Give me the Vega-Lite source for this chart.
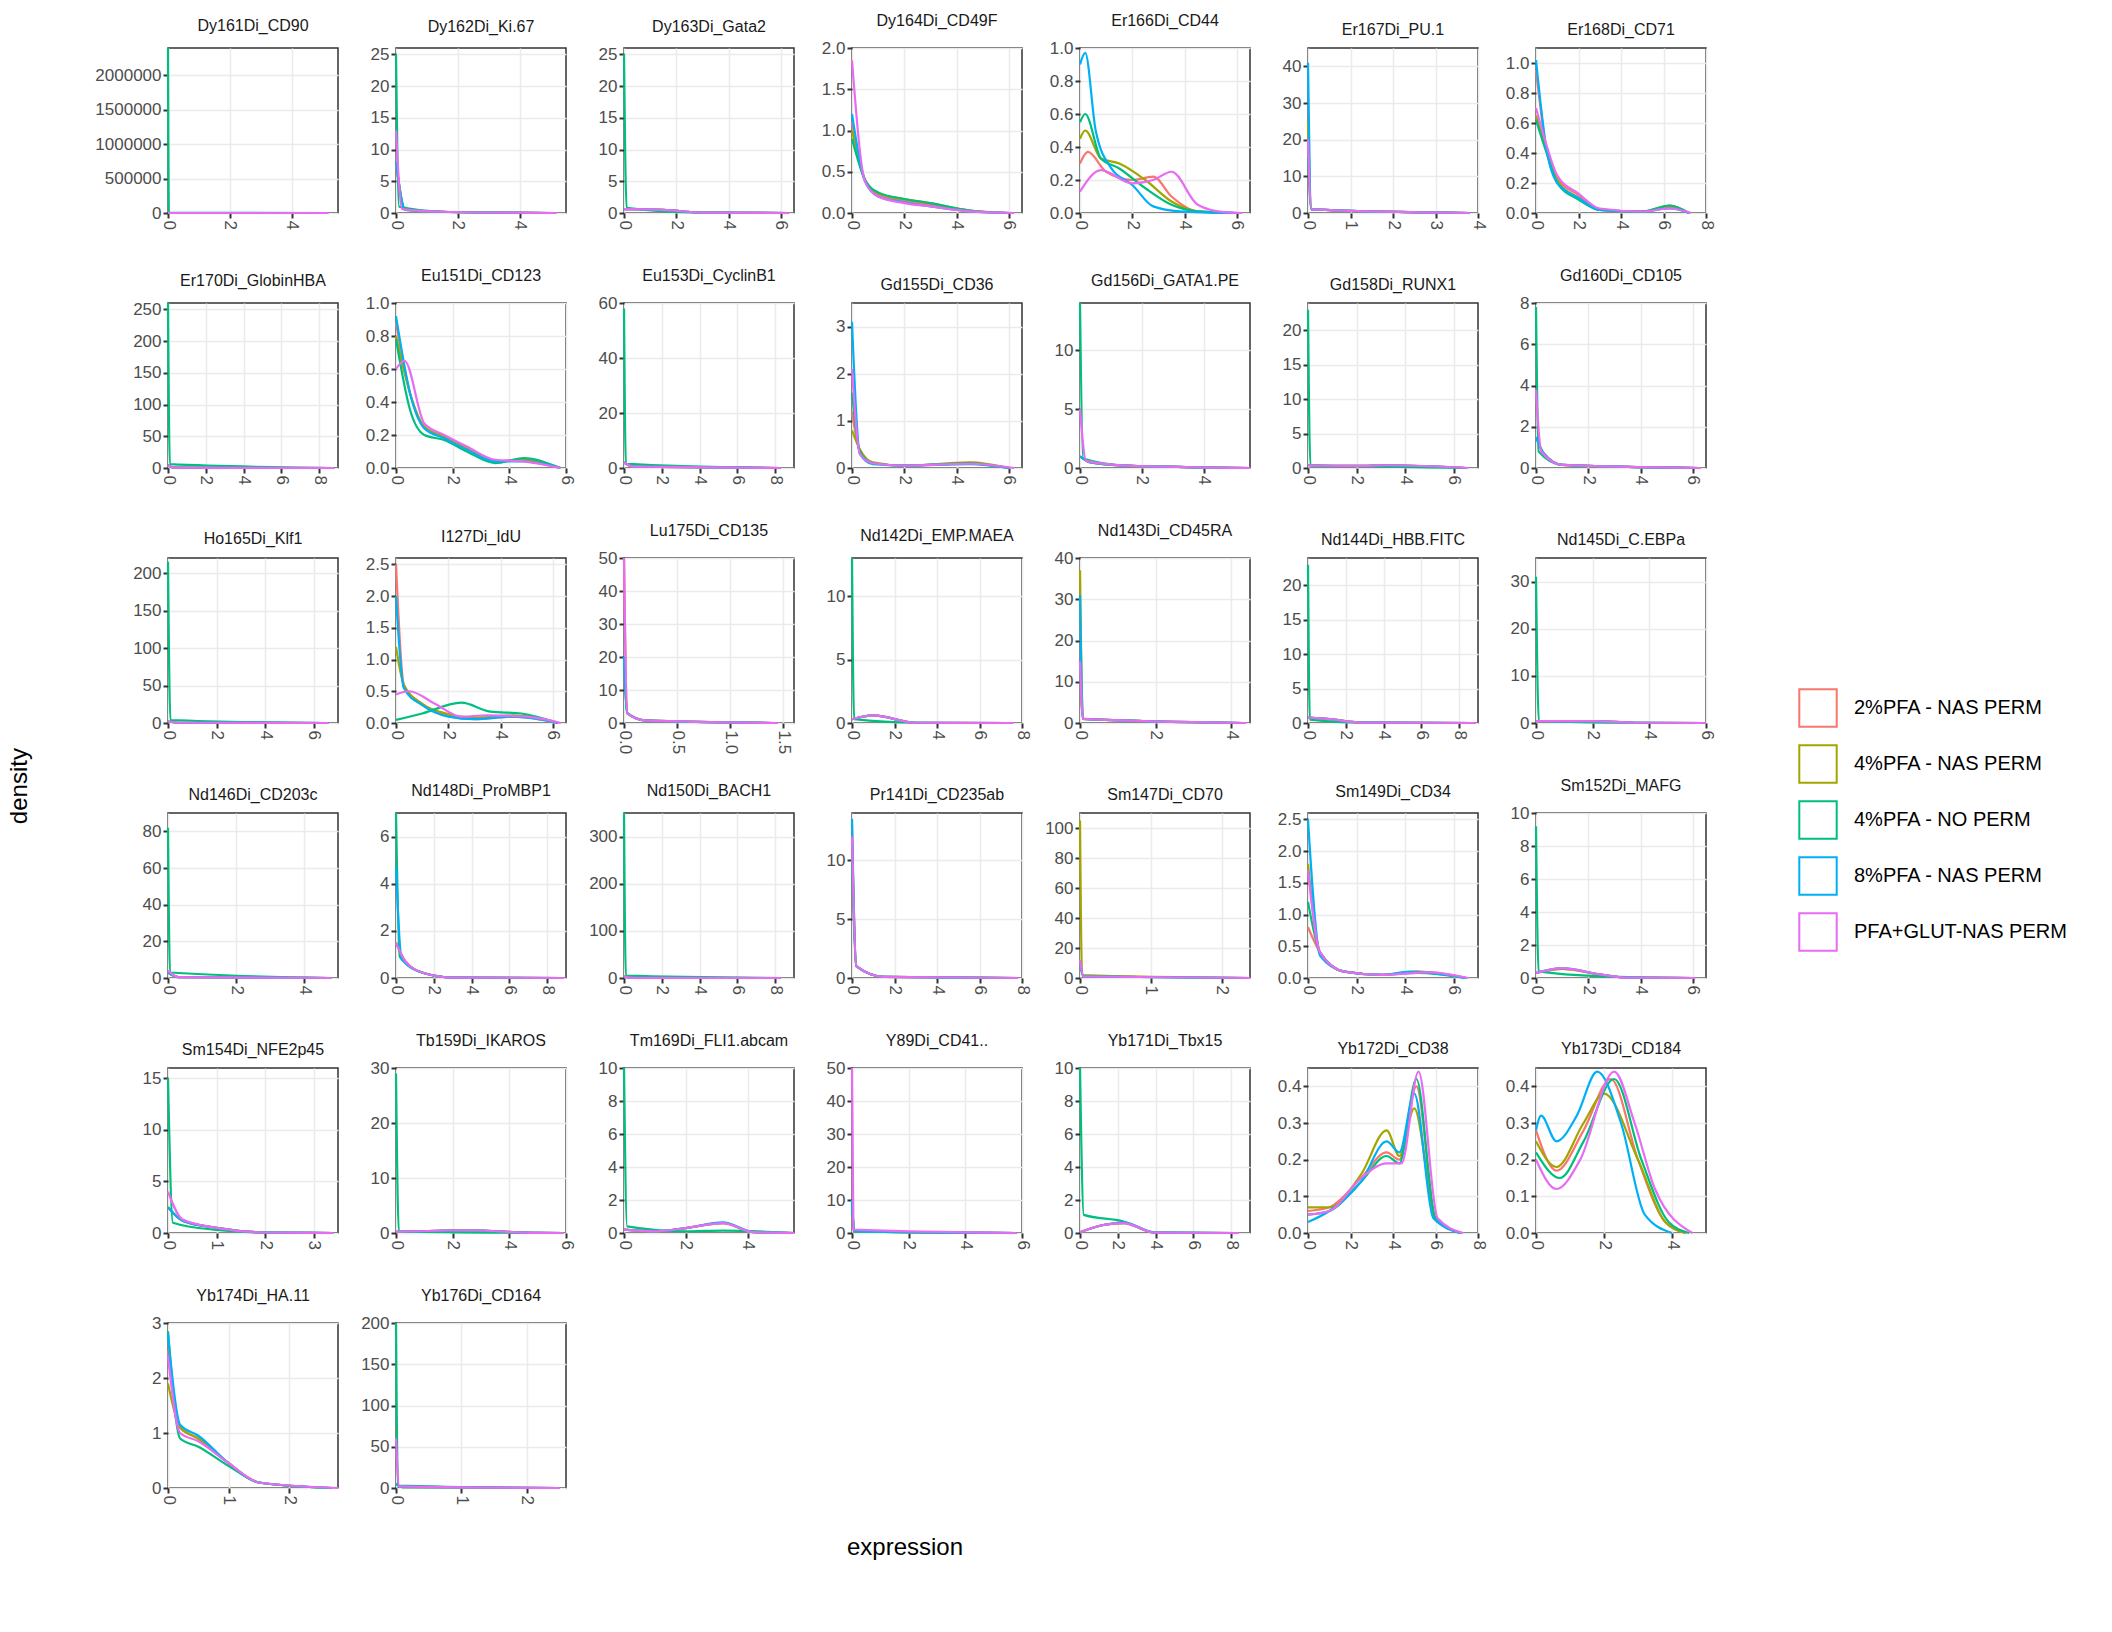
{
"$schema":"https://vega.github.io/schema/vega-lite/v6.json",
"background":"white",
"padding":{"left":8,"top":12,"right":10,"bottom":10},
"bounds":"flush",
"align":"all",
"title":{"text":"density","orient":"left","fontSize":24,"font":"Liberation Sans","fontWeight":"normal","anchor":"middle","offset":62},
"data":{"values":[
{"p":"Dy161Di_CD90","s":"a","x":0,"y":20},{"p":"Dy161Di_CD90","s":"a","x":0.2,"y":1},{"p":"Dy161Di_CD90","s":"a","x":5,"y":0},
{"p":"Dy161Di_CD90","s":"b","x":0,"y":20},{"p":"Dy161Di_CD90","s":"b","x":0.2,"y":1},{"p":"Dy161Di_CD90","s":"b","x":5,"y":0},
{"p":"Dy161Di_CD90","s":"c","x":0,"y":2400000},{"p":"Dy161Di_CD90","s":"c","x":0.03,"y":1000},{"p":"Dy161Di_CD90","s":"c","x":5,"y":0},
{"p":"Dy161Di_CD90","s":"d","x":0,"y":20},{"p":"Dy161Di_CD90","s":"d","x":0.2,"y":1},{"p":"Dy161Di_CD90","s":"d","x":5,"y":0},
{"p":"Dy161Di_CD90","s":"e","x":0,"y":20},{"p":"Dy161Di_CD90","s":"e","x":0.2,"y":1},{"p":"Dy161Di_CD90","s":"e","x":5.2,"y":0},

{"p":"Dy162Di_Ki.67","s":"a","x":0,"y":8},{"p":"Dy162Di_Ki.67","s":"a","x":0.3,"y":0.5},{"p":"Dy162Di_Ki.67","s":"a","x":1.5,"y":0.2},{"p":"Dy162Di_Ki.67","s":"a","x":5,"y":0},
{"p":"Dy162Di_Ki.67","s":"b","x":0,"y":8},{"p":"Dy162Di_Ki.67","s":"b","x":0.3,"y":0.5},{"p":"Dy162Di_Ki.67","s":"b","x":1.5,"y":0.2},{"p":"Dy162Di_Ki.67","s":"b","x":5,"y":0},
{"p":"Dy162Di_Ki.67","s":"c","x":0,"y":25},{"p":"Dy162Di_Ki.67","s":"c","x":0.1,"y":1},{"p":"Dy162Di_Ki.67","s":"c","x":1.5,"y":0.2},{"p":"Dy162Di_Ki.67","s":"c","x":5,"y":0},
{"p":"Dy162Di_Ki.67","s":"d","x":0,"y":8},{"p":"Dy162Di_Ki.67","s":"d","x":0.3,"y":0.5},{"p":"Dy162Di_Ki.67","s":"d","x":1.5,"y":0.2},{"p":"Dy162Di_Ki.67","s":"d","x":5,"y":0},
{"p":"Dy162Di_Ki.67","s":"e","x":0,"y":13},{"p":"Dy162Di_Ki.67","s":"e","x":0.2,"y":0.6},{"p":"Dy162Di_Ki.67","s":"e","x":1.5,"y":0.2},{"p":"Dy162Di_Ki.67","s":"e","x":5.2,"y":0},

{"p":"Dy163Di_Gata2","s":"a","x":0,"y":0.6},{"p":"Dy163Di_Gata2","s":"a","x":1.5,"y":0.5},{"p":"Dy163Di_Gata2","s":"a","x":3,"y":0.05},{"p":"Dy163Di_Gata2","s":"a","x":6.3,"y":0},
{"p":"Dy163Di_Gata2","s":"b","x":0,"y":0.6},{"p":"Dy163Di_Gata2","s":"b","x":1.5,"y":0.5},{"p":"Dy163Di_Gata2","s":"b","x":3,"y":0.05},{"p":"Dy163Di_Gata2","s":"b","x":6.3,"y":0},
{"p":"Dy163Di_Gata2","s":"c","x":0,"y":25},{"p":"Dy163Di_Gata2","s":"c","x":0.1,"y":0.8},{"p":"Dy163Di_Gata2","s":"c","x":3,"y":0.05},{"p":"Dy163Di_Gata2","s":"c","x":6.3,"y":0},
{"p":"Dy163Di_Gata2","s":"d","x":0,"y":0.6},{"p":"Dy163Di_Gata2","s":"d","x":1.5,"y":0.5},{"p":"Dy163Di_Gata2","s":"d","x":3,"y":0.05},{"p":"Dy163Di_Gata2","s":"d","x":6.3,"y":0},
{"p":"Dy163Di_Gata2","s":"e","x":0,"y":0.6},{"p":"Dy163Di_Gata2","s":"e","x":1.5,"y":0.5},{"p":"Dy163Di_Gata2","s":"e","x":3,"y":0.05},{"p":"Dy163Di_Gata2","s":"e","x":6.3,"y":0},

{"p":"Dy164Di_CD49F","s":"a","x":0,"y":1.1},{"p":"Dy164Di_CD49F","s":"a","x":0.5,"y":0.4},{"p":"Dy164Di_CD49F","s":"a","x":1,"y":0.22},{"p":"Dy164Di_CD49F","s":"a","x":2,"y":0.15},{"p":"Dy164Di_CD49F","s":"a","x":3,"y":0.1},{"p":"Dy164Di_CD49F","s":"a","x":4.5,"y":0.03},{"p":"Dy164Di_CD49F","s":"a","x":6,"y":0},
{"p":"Dy164Di_CD49F","s":"b","x":0,"y":1.0},{"p":"Dy164Di_CD49F","s":"b","x":0.5,"y":0.4},{"p":"Dy164Di_CD49F","s":"b","x":1,"y":0.24},{"p":"Dy164Di_CD49F","s":"b","x":2,"y":0.17},{"p":"Dy164Di_CD49F","s":"b","x":3,"y":0.12},{"p":"Dy164Di_CD49F","s":"b","x":4.5,"y":0.03},{"p":"Dy164Di_CD49F","s":"b","x":6,"y":0},
{"p":"Dy164Di_CD49F","s":"c","x":0,"y":0.9},{"p":"Dy164Di_CD49F","s":"c","x":0.5,"y":0.4},{"p":"Dy164Di_CD49F","s":"c","x":1,"y":0.25},{"p":"Dy164Di_CD49F","s":"c","x":2,"y":0.17},{"p":"Dy164Di_CD49F","s":"c","x":3,"y":0.12},{"p":"Dy164Di_CD49F","s":"c","x":4.5,"y":0.03},{"p":"Dy164Di_CD49F","s":"c","x":6,"y":0},
{"p":"Dy164Di_CD49F","s":"d","x":0,"y":1.2},{"p":"Dy164Di_CD49F","s":"d","x":0.5,"y":0.38},{"p":"Dy164Di_CD49F","s":"d","x":1,"y":0.2},{"p":"Dy164Di_CD49F","s":"d","x":2,"y":0.13},{"p":"Dy164Di_CD49F","s":"d","x":3,"y":0.08},{"p":"Dy164Di_CD49F","s":"d","x":4.5,"y":0.02},{"p":"Dy164Di_CD49F","s":"d","x":6,"y":0},
{"p":"Dy164Di_CD49F","s":"e","x":0,"y":1.85},{"p":"Dy164Di_CD49F","s":"e","x":0.5,"y":0.38},{"p":"Dy164Di_CD49F","s":"e","x":1,"y":0.2},{"p":"Dy164Di_CD49F","s":"e","x":2,"y":0.12},{"p":"Dy164Di_CD49F","s":"e","x":3,"y":0.08},{"p":"Dy164Di_CD49F","s":"e","x":4.5,"y":0.02},{"p":"Dy164Di_CD49F","s":"e","x":6.2,"y":0},

{"p":"Er166Di_CD44","s":"a","x":0,"y":0.3},{"p":"Er166Di_CD44","s":"a","x":0.3,"y":0.37},{"p":"Er166Di_CD44","s":"a","x":1,"y":0.25},{"p":"Er166Di_CD44","s":"a","x":2,"y":0.2},{"p":"Er166Di_CD44","s":"a","x":2.8,"y":0.22},{"p":"Er166Di_CD44","s":"a","x":3.5,"y":0.1},{"p":"Er166Di_CD44","s":"a","x":4.5,"y":0.01},{"p":"Er166Di_CD44","s":"a","x":6,"y":0},
{"p":"Er166Di_CD44","s":"b","x":0,"y":0.45},{"p":"Er166Di_CD44","s":"b","x":0.2,"y":0.5},{"p":"Er166Di_CD44","s":"b","x":0.8,"y":0.33},{"p":"Er166Di_CD44","s":"b","x":1.5,"y":0.3},{"p":"Er166Di_CD44","s":"b","x":2.5,"y":0.2},{"p":"Er166Di_CD44","s":"b","x":3.5,"y":0.07},{"p":"Er166Di_CD44","s":"b","x":4.5,"y":0.01},{"p":"Er166Di_CD44","s":"b","x":6,"y":0},
{"p":"Er166Di_CD44","s":"c","x":0,"y":0.55},{"p":"Er166Di_CD44","s":"c","x":0.2,"y":0.6},{"p":"Er166Di_CD44","s":"c","x":0.8,"y":0.33},{"p":"Er166Di_CD44","s":"c","x":1.5,"y":0.27},{"p":"Er166Di_CD44","s":"c","x":2.5,"y":0.15},{"p":"Er166Di_CD44","s":"c","x":3.5,"y":0.05},{"p":"Er166Di_CD44","s":"c","x":4.5,"y":0.01},{"p":"Er166Di_CD44","s":"c","x":6,"y":0},
{"p":"Er166Di_CD44","s":"d","x":0,"y":0.9},{"p":"Er166Di_CD44","s":"d","x":0.2,"y":0.97},{"p":"Er166Di_CD44","s":"d","x":0.6,"y":0.5},{"p":"Er166Di_CD44","s":"d","x":1.2,"y":0.27},{"p":"Er166Di_CD44","s":"d","x":2,"y":0.17},{"p":"Er166Di_CD44","s":"d","x":2.8,"y":0.04},{"p":"Er166Di_CD44","s":"d","x":3.8,"y":0.01},{"p":"Er166Di_CD44","s":"d","x":6,"y":0},
{"p":"Er166Di_CD44","s":"e","x":0,"y":0.13},{"p":"Er166Di_CD44","s":"e","x":0.8,"y":0.26},{"p":"Er166Di_CD44","s":"e","x":2,"y":0.18},{"p":"Er166Di_CD44","s":"e","x":2.8,"y":0.2},{"p":"Er166Di_CD44","s":"e","x":3.5,"y":0.25},{"p":"Er166Di_CD44","s":"e","x":4.5,"y":0.05},{"p":"Er166Di_CD44","s":"e","x":5.5,"y":0.005},{"p":"Er166Di_CD44","s":"e","x":6.2,"y":0},

{"p":"Er167Di_PU.1","s":"a","x":0,"y":25},{"p":"Er167Di_PU.1","s":"a","x":0.08,"y":1},{"p":"Er167Di_PU.1","s":"a","x":3.8,"y":0},
{"p":"Er167Di_PU.1","s":"b","x":0,"y":25},{"p":"Er167Di_PU.1","s":"b","x":0.08,"y":1},{"p":"Er167Di_PU.1","s":"b","x":3.8,"y":0},
{"p":"Er167Di_PU.1","s":"c","x":0,"y":15},{"p":"Er167Di_PU.1","s":"c","x":0.08,"y":1},{"p":"Er167Di_PU.1","s":"c","x":3.8,"y":0},
{"p":"Er167Di_PU.1","s":"d","x":0,"y":41},{"p":"Er167Di_PU.1","s":"d","x":0.08,"y":1},{"p":"Er167Di_PU.1","s":"d","x":3.8,"y":0},
{"p":"Er167Di_PU.1","s":"e","x":0,"y":20},{"p":"Er167Di_PU.1","s":"e","x":0.08,"y":1},{"p":"Er167Di_PU.1","s":"e","x":3.8,"y":0},

{"p":"Er168Di_CD71","s":"a","x":0,"y":0.95},{"p":"Er168Di_CD71","s":"a","x":0.5,"y":0.42},{"p":"Er168Di_CD71","s":"a","x":1,"y":0.23},{"p":"Er168Di_CD71","s":"a","x":2,"y":0.12},{"p":"Er168Di_CD71","s":"a","x":3,"y":0.02},{"p":"Er168Di_CD71","s":"a","x":5,"y":0.01},{"p":"Er168Di_CD71","s":"a","x":6.3,"y":0.04},{"p":"Er168Di_CD71","s":"a","x":7.2,"y":0},
{"p":"Er168Di_CD71","s":"b","x":0,"y":0.65},{"p":"Er168Di_CD71","s":"b","x":0.5,"y":0.42},{"p":"Er168Di_CD71","s":"b","x":1,"y":0.22},{"p":"Er168Di_CD71","s":"b","x":2,"y":0.1},{"p":"Er168Di_CD71","s":"b","x":3,"y":0.02},{"p":"Er168Di_CD71","s":"b","x":5,"y":0.01},{"p":"Er168Di_CD71","s":"b","x":6.3,"y":0.05},{"p":"Er168Di_CD71","s":"b","x":7.2,"y":0},
{"p":"Er168Di_CD71","s":"c","x":0,"y":0.62},{"p":"Er168Di_CD71","s":"c","x":0.5,"y":0.4},{"p":"Er168Di_CD71","s":"c","x":1,"y":0.2},{"p":"Er168Di_CD71","s":"c","x":2,"y":0.09},{"p":"Er168Di_CD71","s":"c","x":3,"y":0.02},{"p":"Er168Di_CD71","s":"c","x":5,"y":0.01},{"p":"Er168Di_CD71","s":"c","x":6.3,"y":0.05},{"p":"Er168Di_CD71","s":"c","x":7.2,"y":0},
{"p":"Er168Di_CD71","s":"d","x":0,"y":1.02},{"p":"Er168Di_CD71","s":"d","x":0.5,"y":0.42},{"p":"Er168Di_CD71","s":"d","x":1,"y":0.2},{"p":"Er168Di_CD71","s":"d","x":2,"y":0.1},{"p":"Er168Di_CD71","s":"d","x":3,"y":0.02},{"p":"Er168Di_CD71","s":"d","x":5,"y":0.01},{"p":"Er168Di_CD71","s":"d","x":6.3,"y":0.03},{"p":"Er168Di_CD71","s":"d","x":7.2,"y":0},
{"p":"Er168Di_CD71","s":"e","x":0,"y":0.7},{"p":"Er168Di_CD71","s":"e","x":0.5,"y":0.45},{"p":"Er168Di_CD71","s":"e","x":1,"y":0.25},{"p":"Er168Di_CD71","s":"e","x":2,"y":0.13},{"p":"Er168Di_CD71","s":"e","x":3,"y":0.03},{"p":"Er168Di_CD71","s":"e","x":5,"y":0.01},{"p":"Er168Di_CD71","s":"e","x":6.3,"y":0.03},{"p":"Er168Di_CD71","s":"e","x":7.3,"y":0},

{"p":"Er170Di_GlobinHBA","s":"a","x":0,"y":5},{"p":"Er170Di_GlobinHBA","s":"a","x":0.3,"y":0.5},{"p":"Er170Di_GlobinHBA","s":"a","x":8.8,"y":0},
{"p":"Er170Di_GlobinHBA","s":"b","x":0,"y":5},{"p":"Er170Di_GlobinHBA","s":"b","x":0.3,"y":0.5},{"p":"Er170Di_GlobinHBA","s":"b","x":8.8,"y":0},
{"p":"Er170Di_GlobinHBA","s":"c","x":0,"y":260},{"p":"Er170Di_GlobinHBA","s":"c","x":0.1,"y":6},{"p":"Er170Di_GlobinHBA","s":"c","x":8.8,"y":0},
{"p":"Er170Di_GlobinHBA","s":"d","x":0,"y":5},{"p":"Er170Di_GlobinHBA","s":"d","x":0.3,"y":0.5},{"p":"Er170Di_GlobinHBA","s":"d","x":8.8,"y":0},
{"p":"Er170Di_GlobinHBA","s":"e","x":0,"y":5},{"p":"Er170Di_GlobinHBA","s":"e","x":0.3,"y":0.5},{"p":"Er170Di_GlobinHBA","s":"e","x":8.8,"y":0},

{"p":"Eu151Di_CD123","s":"a","x":0,"y":0.88},{"p":"Eu151Di_CD123","s":"a","x":0.5,"y":0.45},{"p":"Eu151Di_CD123","s":"a","x":1,"y":0.25},{"p":"Eu151Di_CD123","s":"a","x":1.7,"y":0.19},{"p":"Eu151Di_CD123","s":"a","x":2.5,"y":0.12},{"p":"Eu151Di_CD123","s":"a","x":3.5,"y":0.04},{"p":"Eu151Di_CD123","s":"a","x":4.5,"y":0.05},{"p":"Eu151Di_CD123","s":"a","x":5.8,"y":0},
{"p":"Eu151Di_CD123","s":"b","x":0,"y":0.8},{"p":"Eu151Di_CD123","s":"b","x":0.5,"y":0.45},{"p":"Eu151Di_CD123","s":"b","x":1,"y":0.25},{"p":"Eu151Di_CD123","s":"b","x":1.7,"y":0.19},{"p":"Eu151Di_CD123","s":"b","x":2.5,"y":0.12},{"p":"Eu151Di_CD123","s":"b","x":3.5,"y":0.04},{"p":"Eu151Di_CD123","s":"b","x":4.5,"y":0.05},{"p":"Eu151Di_CD123","s":"b","x":5.8,"y":0},
{"p":"Eu151Di_CD123","s":"c","x":0,"y":0.78},{"p":"Eu151Di_CD123","s":"c","x":0.5,"y":0.35},{"p":"Eu151Di_CD123","s":"c","x":1,"y":0.2},{"p":"Eu151Di_CD123","s":"c","x":1.7,"y":0.17},{"p":"Eu151Di_CD123","s":"c","x":2.5,"y":0.1},{"p":"Eu151Di_CD123","s":"c","x":3.5,"y":0.03},{"p":"Eu151Di_CD123","s":"c","x":4.5,"y":0.06},{"p":"Eu151Di_CD123","s":"c","x":5.8,"y":0},
{"p":"Eu151Di_CD123","s":"d","x":0,"y":0.92},{"p":"Eu151Di_CD123","s":"d","x":0.5,"y":0.45},{"p":"Eu151Di_CD123","s":"d","x":1,"y":0.24},{"p":"Eu151Di_CD123","s":"d","x":1.7,"y":0.18},{"p":"Eu151Di_CD123","s":"d","x":2.5,"y":0.11},{"p":"Eu151Di_CD123","s":"d","x":3.5,"y":0.04},{"p":"Eu151Di_CD123","s":"d","x":4.5,"y":0.04},{"p":"Eu151Di_CD123","s":"d","x":5.8,"y":0},
{"p":"Eu151Di_CD123","s":"e","x":0,"y":0.6},{"p":"Eu151Di_CD123","s":"e","x":0.3,"y":0.65},{"p":"Eu151Di_CD123","s":"e","x":1,"y":0.27},{"p":"Eu151Di_CD123","s":"e","x":1.7,"y":0.2},{"p":"Eu151Di_CD123","s":"e","x":2.5,"y":0.13},{"p":"Eu151Di_CD123","s":"e","x":3.5,"y":0.05},{"p":"Eu151Di_CD123","s":"e","x":4.5,"y":0.04},{"p":"Eu151Di_CD123","s":"e","x":5.8,"y":0},

{"p":"Eu153Di_CyclinB1","s":"a","x":0,"y":2},{"p":"Eu153Di_CyclinB1","s":"a","x":0.5,"y":0.5},{"p":"Eu153Di_CyclinB1","s":"a","x":8.3,"y":0},
{"p":"Eu153Di_CyclinB1","s":"b","x":0,"y":2},{"p":"Eu153Di_CyclinB1","s":"b","x":0.5,"y":0.5},{"p":"Eu153Di_CyclinB1","s":"b","x":8.3,"y":0},
{"p":"Eu153Di_CyclinB1","s":"c","x":0,"y":58},{"p":"Eu153Di_CyclinB1","s":"c","x":0.1,"y":1.5},{"p":"Eu153Di_CyclinB1","s":"c","x":8.3,"y":0},
{"p":"Eu153Di_CyclinB1","s":"d","x":0,"y":2},{"p":"Eu153Di_CyclinB1","s":"d","x":0.5,"y":0.5},{"p":"Eu153Di_CyclinB1","s":"d","x":8.3,"y":0},
{"p":"Eu153Di_CyclinB1","s":"e","x":0,"y":2},{"p":"Eu153Di_CyclinB1","s":"e","x":0.5,"y":0.5},{"p":"Eu153Di_CyclinB1","s":"e","x":8.3,"y":0},

{"p":"Gd155Di_CD36","s":"a","x":0,"y":1.2},{"p":"Gd155Di_CD36","s":"a","x":0.3,"y":0.35},{"p":"Gd155Di_CD36","s":"a","x":0.8,"y":0.1},{"p":"Gd155Di_CD36","s":"a","x":2,"y":0.05},{"p":"Gd155Di_CD36","s":"a","x":4.5,"y":0.1},{"p":"Gd155Di_CD36","s":"a","x":6,"y":0},
{"p":"Gd155Di_CD36","s":"b","x":0,"y":0.8},{"p":"Gd155Di_CD36","s":"b","x":0.3,"y":0.4},{"p":"Gd155Di_CD36","s":"b","x":0.8,"y":0.12},{"p":"Gd155Di_CD36","s":"b","x":2,"y":0.05},{"p":"Gd155Di_CD36","s":"b","x":4.5,"y":0.12},{"p":"Gd155Di_CD36","s":"b","x":6,"y":0},
{"p":"Gd155Di_CD36","s":"c","x":0,"y":1.6},{"p":"Gd155Di_CD36","s":"c","x":0.3,"y":0.35},{"p":"Gd155Di_CD36","s":"c","x":0.8,"y":0.1},{"p":"Gd155Di_CD36","s":"c","x":2,"y":0.05},{"p":"Gd155Di_CD36","s":"c","x":4.5,"y":0.1},{"p":"Gd155Di_CD36","s":"c","x":6,"y":0},
{"p":"Gd155Di_CD36","s":"d","x":0,"y":3.1},{"p":"Gd155Di_CD36","s":"d","x":0.3,"y":0.3},{"p":"Gd155Di_CD36","s":"d","x":0.8,"y":0.08},{"p":"Gd155Di_CD36","s":"d","x":2,"y":0.05},{"p":"Gd155Di_CD36","s":"d","x":4.5,"y":0.08},{"p":"Gd155Di_CD36","s":"d","x":6,"y":0},
{"p":"Gd155Di_CD36","s":"e","x":0,"y":2.1},{"p":"Gd155Di_CD36","s":"e","x":0.3,"y":0.3},{"p":"Gd155Di_CD36","s":"e","x":0.8,"y":0.1},{"p":"Gd155Di_CD36","s":"e","x":2,"y":0.05},{"p":"Gd155Di_CD36","s":"e","x":4.5,"y":0.09},{"p":"Gd155Di_CD36","s":"e","x":6.2,"y":0},

{"p":"Gd156Di_GATA1.PE","s":"a","x":0,"y":1},{"p":"Gd156Di_GATA1.PE","s":"a","x":0.3,"y":0.5},{"p":"Gd156Di_GATA1.PE","s":"a","x":1.5,"y":0.2},{"p":"Gd156Di_GATA1.PE","s":"a","x":5.5,"y":0},
{"p":"Gd156Di_GATA1.PE","s":"b","x":0,"y":1},{"p":"Gd156Di_GATA1.PE","s":"b","x":0.3,"y":0.5},{"p":"Gd156Di_GATA1.PE","s":"b","x":1.5,"y":0.2},{"p":"Gd156Di_GATA1.PE","s":"b","x":5.5,"y":0},
{"p":"Gd156Di_GATA1.PE","s":"c","x":0,"y":14},{"p":"Gd156Di_GATA1.PE","s":"c","x":0.1,"y":0.8},{"p":"Gd156Di_GATA1.PE","s":"c","x":1.5,"y":0.2},{"p":"Gd156Di_GATA1.PE","s":"c","x":5.5,"y":0},
{"p":"Gd156Di_GATA1.PE","s":"d","x":0,"y":1},{"p":"Gd156Di_GATA1.PE","s":"d","x":0.3,"y":0.5},{"p":"Gd156Di_GATA1.PE","s":"d","x":1.5,"y":0.2},{"p":"Gd156Di_GATA1.PE","s":"d","x":5.5,"y":0},
{"p":"Gd156Di_GATA1.PE","s":"e","x":0,"y":5},{"p":"Gd156Di_GATA1.PE","s":"e","x":0.2,"y":0.6},{"p":"Gd156Di_GATA1.PE","s":"e","x":1.5,"y":0.2},{"p":"Gd156Di_GATA1.PE","s":"e","x":5.5,"y":0},

{"p":"Gd158Di_RUNX1","s":"a","x":0,"y":0.4},{"p":"Gd158Di_RUNX1","s":"a","x":2,"y":0.3},{"p":"Gd158Di_RUNX1","s":"a","x":3.3,"y":0.4},{"p":"Gd158Di_RUNX1","s":"a","x":6.5,"y":0},
{"p":"Gd158Di_RUNX1","s":"b","x":0,"y":0.4},{"p":"Gd158Di_RUNX1","s":"b","x":2,"y":0.3},{"p":"Gd158Di_RUNX1","s":"b","x":3.3,"y":0.4},{"p":"Gd158Di_RUNX1","s":"b","x":6.5,"y":0},
{"p":"Gd158Di_RUNX1","s":"c","x":0,"y":23},{"p":"Gd158Di_RUNX1","s":"c","x":0.1,"y":0.4},{"p":"Gd158Di_RUNX1","s":"c","x":3.3,"y":0.2},{"p":"Gd158Di_RUNX1","s":"c","x":6.5,"y":0},
{"p":"Gd158Di_RUNX1","s":"d","x":0,"y":0.4},{"p":"Gd158Di_RUNX1","s":"d","x":2,"y":0.3},{"p":"Gd158Di_RUNX1","s":"d","x":3.3,"y":0.4},{"p":"Gd158Di_RUNX1","s":"d","x":6.5,"y":0},
{"p":"Gd158Di_RUNX1","s":"e","x":0,"y":0.4},{"p":"Gd158Di_RUNX1","s":"e","x":2,"y":0.3},{"p":"Gd158Di_RUNX1","s":"e","x":3.3,"y":0.4},{"p":"Gd158Di_RUNX1","s":"e","x":6.6,"y":0},

{"p":"Gd160Di_CD105","s":"a","x":0,"y":1.5},{"p":"Gd160Di_CD105","s":"a","x":0.3,"y":0.7},{"p":"Gd160Di_CD105","s":"a","x":1,"y":0.15},{"p":"Gd160Di_CD105","s":"a","x":6.2,"y":0},
{"p":"Gd160Di_CD105","s":"b","x":0,"y":1.5},{"p":"Gd160Di_CD105","s":"b","x":0.3,"y":0.7},{"p":"Gd160Di_CD105","s":"b","x":1,"y":0.15},{"p":"Gd160Di_CD105","s":"b","x":6.2,"y":0},
{"p":"Gd160Di_CD105","s":"c","x":0,"y":7.8},{"p":"Gd160Di_CD105","s":"c","x":0.1,"y":0.8},{"p":"Gd160Di_CD105","s":"c","x":1,"y":0.15},{"p":"Gd160Di_CD105","s":"c","x":6.2,"y":0},
{"p":"Gd160Di_CD105","s":"d","x":0,"y":1.5},{"p":"Gd160Di_CD105","s":"d","x":0.3,"y":0.7},{"p":"Gd160Di_CD105","s":"d","x":1,"y":0.15},{"p":"Gd160Di_CD105","s":"d","x":6.2,"y":0},
{"p":"Gd160Di_CD105","s":"e","x":0,"y":3.8},{"p":"Gd160Di_CD105","s":"e","x":0.2,"y":0.8},{"p":"Gd160Di_CD105","s":"e","x":1,"y":0.15},{"p":"Gd160Di_CD105","s":"e","x":6.3,"y":0},

{"p":"Ho165Di_Klf1","s":"a","x":0,"y":2},{"p":"Ho165Di_Klf1","s":"a","x":0.5,"y":0.3},{"p":"Ho165Di_Klf1","s":"a","x":6.6,"y":0},
{"p":"Ho165Di_Klf1","s":"b","x":0,"y":2},{"p":"Ho165Di_Klf1","s":"b","x":0.5,"y":0.3},{"p":"Ho165Di_Klf1","s":"b","x":6.6,"y":0},
{"p":"Ho165Di_Klf1","s":"c","x":0,"y":215},{"p":"Ho165Di_Klf1","s":"c","x":0.1,"y":4},{"p":"Ho165Di_Klf1","s":"c","x":6.6,"y":0},
{"p":"Ho165Di_Klf1","s":"d","x":0,"y":2},{"p":"Ho165Di_Klf1","s":"d","x":0.5,"y":0.3},{"p":"Ho165Di_Klf1","s":"d","x":6.6,"y":0},
{"p":"Ho165Di_Klf1","s":"e","x":0,"y":2},{"p":"Ho165Di_Klf1","s":"e","x":0.5,"y":0.3},{"p":"Ho165Di_Klf1","s":"e","x":6.6,"y":0},

{"p":"I127Di_IdU","s":"a","x":0,"y":2.5},{"p":"I127Di_IdU","s":"a","x":0.3,"y":0.6},{"p":"I127Di_IdU","s":"a","x":1,"y":0.3},{"p":"I127Di_IdU","s":"a","x":2,"y":0.12},{"p":"I127Di_IdU","s":"a","x":3,"y":0.06},{"p":"I127Di_IdU","s":"a","x":4.5,"y":0.1},{"p":"I127Di_IdU","s":"a","x":6.2,"y":0},
{"p":"I127Di_IdU","s":"b","x":0,"y":1.2},{"p":"I127Di_IdU","s":"b","x":0.3,"y":0.6},{"p":"I127Di_IdU","s":"b","x":1,"y":0.3},{"p":"I127Di_IdU","s":"b","x":2,"y":0.14},{"p":"I127Di_IdU","s":"b","x":3,"y":0.08},{"p":"I127Di_IdU","s":"b","x":4.5,"y":0.12},{"p":"I127Di_IdU","s":"b","x":6.2,"y":0},
{"p":"I127Di_IdU","s":"c","x":0,"y":0.05},{"p":"I127Di_IdU","s":"c","x":1,"y":0.15},{"p":"I127Di_IdU","s":"c","x":2.5,"y":0.32},{"p":"I127Di_IdU","s":"c","x":3.6,"y":0.18},{"p":"I127Di_IdU","s":"c","x":4.8,"y":0.15},{"p":"I127Di_IdU","s":"c","x":6.2,"y":0},
{"p":"I127Di_IdU","s":"d","x":0,"y":2.0},{"p":"I127Di_IdU","s":"d","x":0.3,"y":0.55},{"p":"I127Di_IdU","s":"d","x":1,"y":0.28},{"p":"I127Di_IdU","s":"d","x":2,"y":0.1},{"p":"I127Di_IdU","s":"d","x":3,"y":0.06},{"p":"I127Di_IdU","s":"d","x":4.5,"y":0.1},{"p":"I127Di_IdU","s":"d","x":6.2,"y":0},
{"p":"I127Di_IdU","s":"e","x":0,"y":0.45},{"p":"I127Di_IdU","s":"e","x":0.5,"y":0.5},{"p":"I127Di_IdU","s":"e","x":1.5,"y":0.3},{"p":"I127Di_IdU","s":"e","x":2.5,"y":0.1},{"p":"I127Di_IdU","s":"e","x":3.5,"y":0.12},{"p":"I127Di_IdU","s":"e","x":5,"y":0.1},{"p":"I127Di_IdU","s":"e","x":6.3,"y":0},

{"p":"Lu175Di_CD135","s":"a","x":0,"y":50},{"p":"Lu175Di_CD135","s":"a","x":0.03,"y":3},{"p":"Lu175Di_CD135","s":"a","x":0.2,"y":0.8},{"p":"Lu175Di_CD135","s":"a","x":1.4,"y":0},
{"p":"Lu175Di_CD135","s":"b","x":0,"y":20},{"p":"Lu175Di_CD135","s":"b","x":0.03,"y":3},{"p":"Lu175Di_CD135","s":"b","x":0.2,"y":0.8},{"p":"Lu175Di_CD135","s":"b","x":1.4,"y":0},
{"p":"Lu175Di_CD135","s":"c","x":0,"y":20},{"p":"Lu175Di_CD135","s":"c","x":0.03,"y":3},{"p":"Lu175Di_CD135","s":"c","x":0.2,"y":0.8},{"p":"Lu175Di_CD135","s":"c","x":1.4,"y":0},
{"p":"Lu175Di_CD135","s":"d","x":0,"y":20},{"p":"Lu175Di_CD135","s":"d","x":0.03,"y":3},{"p":"Lu175Di_CD135","s":"d","x":0.2,"y":0.8},{"p":"Lu175Di_CD135","s":"d","x":1.4,"y":0},
{"p":"Lu175Di_CD135","s":"e","x":0,"y":50},{"p":"Lu175Di_CD135","s":"e","x":0.03,"y":3},{"p":"Lu175Di_CD135","s":"e","x":0.2,"y":0.8},{"p":"Lu175Di_CD135","s":"e","x":1.45,"y":0},

{"p":"Nd142Di_EMP.MAEA","s":"a","x":0,"y":0.3},{"p":"Nd142Di_EMP.MAEA","s":"a","x":1,"y":0.6},{"p":"Nd142Di_EMP.MAEA","s":"a","x":3,"y":0.02},{"p":"Nd142Di_EMP.MAEA","s":"a","x":7.5,"y":0},
{"p":"Nd142Di_EMP.MAEA","s":"b","x":0,"y":0.3},{"p":"Nd142Di_EMP.MAEA","s":"b","x":1,"y":0.6},{"p":"Nd142Di_EMP.MAEA","s":"b","x":3,"y":0.02},{"p":"Nd142Di_EMP.MAEA","s":"b","x":7.5,"y":0},
{"p":"Nd142Di_EMP.MAEA","s":"c","x":0,"y":13},{"p":"Nd142Di_EMP.MAEA","s":"c","x":0.1,"y":0.3},{"p":"Nd142Di_EMP.MAEA","s":"c","x":3,"y":0.02},{"p":"Nd142Di_EMP.MAEA","s":"c","x":7.5,"y":0},
{"p":"Nd142Di_EMP.MAEA","s":"d","x":0,"y":0.3},{"p":"Nd142Di_EMP.MAEA","s":"d","x":1,"y":0.6},{"p":"Nd142Di_EMP.MAEA","s":"d","x":3,"y":0.02},{"p":"Nd142Di_EMP.MAEA","s":"d","x":7.5,"y":0},
{"p":"Nd142Di_EMP.MAEA","s":"e","x":0,"y":0.3},{"p":"Nd142Di_EMP.MAEA","s":"e","x":1,"y":0.6},{"p":"Nd142Di_EMP.MAEA","s":"e","x":3,"y":0.02},{"p":"Nd142Di_EMP.MAEA","s":"e","x":7.6,"y":0},

{"p":"Nd143Di_CD45RA","s":"a","x":0,"y":15},{"p":"Nd143Di_CD45RA","s":"a","x":0.08,"y":1},{"p":"Nd143Di_CD45RA","s":"a","x":4.3,"y":0},
{"p":"Nd143Di_CD45RA","s":"b","x":0,"y":37},{"p":"Nd143Di_CD45RA","s":"b","x":0.08,"y":1},{"p":"Nd143Di_CD45RA","s":"b","x":4.3,"y":0},
{"p":"Nd143Di_CD45RA","s":"c","x":0,"y":15},{"p":"Nd143Di_CD45RA","s":"c","x":0.08,"y":1},{"p":"Nd143Di_CD45RA","s":"c","x":4.3,"y":0},
{"p":"Nd143Di_CD45RA","s":"d","x":0,"y":31},{"p":"Nd143Di_CD45RA","s":"d","x":0.08,"y":1},{"p":"Nd143Di_CD45RA","s":"d","x":4.3,"y":0},
{"p":"Nd143Di_CD45RA","s":"e","x":0,"y":15},{"p":"Nd143Di_CD45RA","s":"e","x":0.08,"y":1},{"p":"Nd143Di_CD45RA","s":"e","x":4.4,"y":0},

{"p":"Nd144Di_HBB.FITC","s":"a","x":0,"y":0.8},{"p":"Nd144Di_HBB.FITC","s":"a","x":1,"y":0.6},{"p":"Nd144Di_HBB.FITC","s":"a","x":3,"y":0.05},{"p":"Nd144Di_HBB.FITC","s":"a","x":8.8,"y":0},
{"p":"Nd144Di_HBB.FITC","s":"b","x":0,"y":0.8},{"p":"Nd144Di_HBB.FITC","s":"b","x":1,"y":0.6},{"p":"Nd144Di_HBB.FITC","s":"b","x":3,"y":0.05},{"p":"Nd144Di_HBB.FITC","s":"b","x":8.8,"y":0},
{"p":"Nd144Di_HBB.FITC","s":"c","x":0,"y":23},{"p":"Nd144Di_HBB.FITC","s":"c","x":0.1,"y":0.5},{"p":"Nd144Di_HBB.FITC","s":"c","x":3,"y":0.05},{"p":"Nd144Di_HBB.FITC","s":"c","x":8.8,"y":0},
{"p":"Nd144Di_HBB.FITC","s":"d","x":0,"y":0.8},{"p":"Nd144Di_HBB.FITC","s":"d","x":1,"y":0.6},{"p":"Nd144Di_HBB.FITC","s":"d","x":3,"y":0.05},{"p":"Nd144Di_HBB.FITC","s":"d","x":8.8,"y":0},
{"p":"Nd144Di_HBB.FITC","s":"e","x":0,"y":0.8},{"p":"Nd144Di_HBB.FITC","s":"e","x":1,"y":0.6},{"p":"Nd144Di_HBB.FITC","s":"e","x":3,"y":0.05},{"p":"Nd144Di_HBB.FITC","s":"e","x":8.9,"y":0},

{"p":"Nd145Di_C.EBPa","s":"a","x":0,"y":0.4},{"p":"Nd145Di_C.EBPa","s":"a","x":2,"y":0.4},{"p":"Nd145Di_C.EBPa","s":"a","x":3.5,"y":0.05},{"p":"Nd145Di_C.EBPa","s":"a","x":6,"y":0},
{"p":"Nd145Di_C.EBPa","s":"b","x":0,"y":0.4},{"p":"Nd145Di_C.EBPa","s":"b","x":2,"y":0.4},{"p":"Nd145Di_C.EBPa","s":"b","x":3.5,"y":0.05},{"p":"Nd145Di_C.EBPa","s":"b","x":6,"y":0},
{"p":"Nd145Di_C.EBPa","s":"c","x":0,"y":31},{"p":"Nd145Di_C.EBPa","s":"c","x":0.1,"y":0.4},{"p":"Nd145Di_C.EBPa","s":"c","x":3.5,"y":0.05},{"p":"Nd145Di_C.EBPa","s":"c","x":6,"y":0},
{"p":"Nd145Di_C.EBPa","s":"d","x":0,"y":0.4},{"p":"Nd145Di_C.EBPa","s":"d","x":2,"y":0.4},{"p":"Nd145Di_C.EBPa","s":"d","x":3.5,"y":0.05},{"p":"Nd145Di_C.EBPa","s":"d","x":6,"y":0},
{"p":"Nd145Di_C.EBPa","s":"e","x":0,"y":0.4},{"p":"Nd145Di_C.EBPa","s":"e","x":2,"y":0.4},{"p":"Nd145Di_C.EBPa","s":"e","x":3.5,"y":0.05},{"p":"Nd145Di_C.EBPa","s":"e","x":6,"y":0},

{"p":"Nd146Di_CD203c","s":"a","x":0,"y":3},{"p":"Nd146Di_CD203c","s":"a","x":0.3,"y":0.5},{"p":"Nd146Di_CD203c","s":"a","x":4.8,"y":0},
{"p":"Nd146Di_CD203c","s":"b","x":0,"y":3},{"p":"Nd146Di_CD203c","s":"b","x":0.3,"y":0.5},{"p":"Nd146Di_CD203c","s":"b","x":4.8,"y":0},
{"p":"Nd146Di_CD203c","s":"c","x":0,"y":82},{"p":"Nd146Di_CD203c","s":"c","x":0.06,"y":3},{"p":"Nd146Di_CD203c","s":"c","x":4.8,"y":0},
{"p":"Nd146Di_CD203c","s":"d","x":0,"y":3},{"p":"Nd146Di_CD203c","s":"d","x":0.3,"y":0.5},{"p":"Nd146Di_CD203c","s":"d","x":4.8,"y":0},
{"p":"Nd146Di_CD203c","s":"e","x":0,"y":4},{"p":"Nd146Di_CD203c","s":"e","x":0.3,"y":0.5},{"p":"Nd146Di_CD203c","s":"e","x":4.8,"y":0},

{"p":"Nd148Di_ProMBP1","s":"a","x":0,"y":1.5},{"p":"Nd148Di_ProMBP1","s":"a","x":0.5,"y":0.7},{"p":"Nd148Di_ProMBP1","s":"a","x":1.5,"y":0.2},{"p":"Nd148Di_ProMBP1","s":"a","x":3,"y":0.02},{"p":"Nd148Di_ProMBP1","s":"a","x":8.8,"y":0},
{"p":"Nd148Di_ProMBP1","s":"b","x":0,"y":1.5},{"p":"Nd148Di_ProMBP1","s":"b","x":0.5,"y":0.7},{"p":"Nd148Di_ProMBP1","s":"b","x":1.5,"y":0.2},{"p":"Nd148Di_ProMBP1","s":"b","x":3,"y":0.02},{"p":"Nd148Di_ProMBP1","s":"b","x":8.8,"y":0},
{"p":"Nd148Di_ProMBP1","s":"c","x":0,"y":7},{"p":"Nd148Di_ProMBP1","s":"c","x":0.2,"y":0.9},{"p":"Nd148Di_ProMBP1","s":"c","x":1.5,"y":0.2},{"p":"Nd148Di_ProMBP1","s":"c","x":3,"y":0.02},{"p":"Nd148Di_ProMBP1","s":"c","x":8.8,"y":0},
{"p":"Nd148Di_ProMBP1","s":"d","x":0,"y":4.7},{"p":"Nd148Di_ProMBP1","s":"d","x":0.3,"y":0.8},{"p":"Nd148Di_ProMBP1","s":"d","x":1.5,"y":0.2},{"p":"Nd148Di_ProMBP1","s":"d","x":3,"y":0.02},{"p":"Nd148Di_ProMBP1","s":"d","x":8.8,"y":0},
{"p":"Nd148Di_ProMBP1","s":"e","x":0,"y":1.5},{"p":"Nd148Di_ProMBP1","s":"e","x":0.5,"y":0.7},{"p":"Nd148Di_ProMBP1","s":"e","x":1.5,"y":0.2},{"p":"Nd148Di_ProMBP1","s":"e","x":3,"y":0.02},{"p":"Nd148Di_ProMBP1","s":"e","x":8.9,"y":0},

{"p":"Nd150Di_BACH1","s":"a","x":0,"y":3},{"p":"Nd150Di_BACH1","s":"a","x":0.5,"y":0.3},{"p":"Nd150Di_BACH1","s":"a","x":8.3,"y":0},
{"p":"Nd150Di_BACH1","s":"b","x":0,"y":3},{"p":"Nd150Di_BACH1","s":"b","x":0.5,"y":0.3},{"p":"Nd150Di_BACH1","s":"b","x":8.3,"y":0},
{"p":"Nd150Di_BACH1","s":"c","x":0,"y":350},{"p":"Nd150Di_BACH1","s":"c","x":0.1,"y":5},{"p":"Nd150Di_BACH1","s":"c","x":8.3,"y":0},
{"p":"Nd150Di_BACH1","s":"d","x":0,"y":3},{"p":"Nd150Di_BACH1","s":"d","x":0.5,"y":0.3},{"p":"Nd150Di_BACH1","s":"d","x":8.3,"y":0},
{"p":"Nd150Di_BACH1","s":"e","x":0,"y":3},{"p":"Nd150Di_BACH1","s":"e","x":0.5,"y":0.3},{"p":"Nd150Di_BACH1","s":"e","x":8.3,"y":0},

{"p":"Pr141Di_CD235ab","s":"a","x":0,"y":13},{"p":"Pr141Di_CD235ab","s":"a","x":0.2,"y":1},{"p":"Pr141Di_CD235ab","s":"a","x":1.5,"y":0.1},{"p":"Pr141Di_CD235ab","s":"a","x":7.8,"y":0},
{"p":"Pr141Di_CD235ab","s":"b","x":0,"y":12},{"p":"Pr141Di_CD235ab","s":"b","x":0.2,"y":1},{"p":"Pr141Di_CD235ab","s":"b","x":1.5,"y":0.1},{"p":"Pr141Di_CD235ab","s":"b","x":7.8,"y":0},
{"p":"Pr141Di_CD235ab","s":"c","x":0,"y":10},{"p":"Pr141Di_CD235ab","s":"c","x":0.2,"y":1},{"p":"Pr141Di_CD235ab","s":"c","x":1.5,"y":0.1},{"p":"Pr141Di_CD235ab","s":"c","x":7.8,"y":0},
{"p":"Pr141Di_CD235ab","s":"d","x":0,"y":13.5},{"p":"Pr141Di_CD235ab","s":"d","x":0.2,"y":1},{"p":"Pr141Di_CD235ab","s":"d","x":1.5,"y":0.1},{"p":"Pr141Di_CD235ab","s":"d","x":7.8,"y":0},
{"p":"Pr141Di_CD235ab","s":"e","x":0,"y":12},{"p":"Pr141Di_CD235ab","s":"e","x":0.2,"y":1},{"p":"Pr141Di_CD235ab","s":"e","x":1.5,"y":0.1},{"p":"Pr141Di_CD235ab","s":"e","x":7.8,"y":0},

{"p":"Sm147Di_CD70","s":"a","x":0,"y":10},{"p":"Sm147Di_CD70","s":"a","x":0.05,"y":1},{"p":"Sm147Di_CD70","s":"a","x":2.4,"y":0},
{"p":"Sm147Di_CD70","s":"b","x":0,"y":105},{"p":"Sm147Di_CD70","s":"b","x":0.03,"y":2},{"p":"Sm147Di_CD70","s":"b","x":2.4,"y":0},
{"p":"Sm147Di_CD70","s":"c","x":0,"y":10},{"p":"Sm147Di_CD70","s":"c","x":0.05,"y":1},{"p":"Sm147Di_CD70","s":"c","x":2.4,"y":0},
{"p":"Sm147Di_CD70","s":"d","x":0,"y":10},{"p":"Sm147Di_CD70","s":"d","x":0.05,"y":1},{"p":"Sm147Di_CD70","s":"d","x":2.4,"y":0},
{"p":"Sm147Di_CD70","s":"e","x":0,"y":12},{"p":"Sm147Di_CD70","s":"e","x":0.05,"y":1},{"p":"Sm147Di_CD70","s":"e","x":2.4,"y":0},

{"p":"Sm149Di_CD34","s":"a","x":0,"y":0.8},{"p":"Sm149Di_CD34","s":"a","x":0.5,"y":0.4},{"p":"Sm149Di_CD34","s":"a","x":1.5,"y":0.1},{"p":"Sm149Di_CD34","s":"a","x":3,"y":0.05},{"p":"Sm149Di_CD34","s":"a","x":4.5,"y":0.1},{"p":"Sm149Di_CD34","s":"a","x":6.5,"y":0},
{"p":"Sm149Di_CD34","s":"b","x":0,"y":1.8},{"p":"Sm149Di_CD34","s":"b","x":0.5,"y":0.4},{"p":"Sm149Di_CD34","s":"b","x":1.5,"y":0.1},{"p":"Sm149Di_CD34","s":"b","x":3,"y":0.05},{"p":"Sm149Di_CD34","s":"b","x":4.5,"y":0.1},{"p":"Sm149Di_CD34","s":"b","x":6.5,"y":0},
{"p":"Sm149Di_CD34","s":"c","x":0,"y":1.2},{"p":"Sm149Di_CD34","s":"c","x":0.5,"y":0.4},{"p":"Sm149Di_CD34","s":"c","x":1.5,"y":0.1},{"p":"Sm149Di_CD34","s":"c","x":3,"y":0.05},{"p":"Sm149Di_CD34","s":"c","x":4.5,"y":0.08},{"p":"Sm149Di_CD34","s":"c","x":6.5,"y":0},
{"p":"Sm149Di_CD34","s":"d","x":0,"y":2.5},{"p":"Sm149Di_CD34","s":"d","x":0.5,"y":0.35},{"p":"Sm149Di_CD34","s":"d","x":1.5,"y":0.1},{"p":"Sm149Di_CD34","s":"d","x":3,"y":0.05},{"p":"Sm149Di_CD34","s":"d","x":4.2,"y":0.1},{"p":"Sm149Di_CD34","s":"d","x":6.5,"y":0},
{"p":"Sm149Di_CD34","s":"e","x":0,"y":1.7},{"p":"Sm149Di_CD34","s":"e","x":0.5,"y":0.4},{"p":"Sm149Di_CD34","s":"e","x":1.5,"y":0.1},{"p":"Sm149Di_CD34","s":"e","x":3,"y":0.05},{"p":"Sm149Di_CD34","s":"e","x":5,"y":0.09},{"p":"Sm149Di_CD34","s":"e","x":6.6,"y":0},

{"p":"Sm152Di_MAFG","s":"a","x":0,"y":0.3},{"p":"Sm152Di_MAFG","s":"a","x":1,"y":0.55},{"p":"Sm152Di_MAFG","s":"a","x":2.5,"y":0.2},{"p":"Sm152Di_MAFG","s":"a","x":3.5,"y":0.02},{"p":"Sm152Di_MAFG","s":"a","x":6,"y":0},
{"p":"Sm152Di_MAFG","s":"b","x":0,"y":0.3},{"p":"Sm152Di_MAFG","s":"b","x":1,"y":0.55},{"p":"Sm152Di_MAFG","s":"b","x":2.5,"y":0.2},{"p":"Sm152Di_MAFG","s":"b","x":3.5,"y":0.02},{"p":"Sm152Di_MAFG","s":"b","x":6,"y":0},
{"p":"Sm152Di_MAFG","s":"c","x":0,"y":9.2},{"p":"Sm152Di_MAFG","s":"c","x":0.1,"y":0.4},{"p":"Sm152Di_MAFG","s":"c","x":2.5,"y":0.1},{"p":"Sm152Di_MAFG","s":"c","x":6,"y":0},
{"p":"Sm152Di_MAFG","s":"d","x":0,"y":0.3},{"p":"Sm152Di_MAFG","s":"d","x":1,"y":0.6},{"p":"Sm152Di_MAFG","s":"d","x":2.5,"y":0.2},{"p":"Sm152Di_MAFG","s":"d","x":3.5,"y":0.02},{"p":"Sm152Di_MAFG","s":"d","x":6,"y":0},
{"p":"Sm152Di_MAFG","s":"e","x":0,"y":0.3},{"p":"Sm152Di_MAFG","s":"e","x":1,"y":0.6},{"p":"Sm152Di_MAFG","s":"e","x":2.5,"y":0.2},{"p":"Sm152Di_MAFG","s":"e","x":3.5,"y":0.02},{"p":"Sm152Di_MAFG","s":"e","x":6.1,"y":0},

{"p":"Sm154Di_NFE2p45","s":"a","x":0,"y":2.5},{"p":"Sm154Di_NFE2p45","s":"a","x":0.3,"y":1.2},{"p":"Sm154Di_NFE2p45","s":"a","x":1,"y":0.5},{"p":"Sm154Di_NFE2p45","s":"a","x":2,"y":0.05},{"p":"Sm154Di_NFE2p45","s":"a","x":3.4,"y":0},
{"p":"Sm154Di_NFE2p45","s":"b","x":0,"y":2.5},{"p":"Sm154Di_NFE2p45","s":"b","x":0.3,"y":1.2},{"p":"Sm154Di_NFE2p45","s":"b","x":1,"y":0.5},{"p":"Sm154Di_NFE2p45","s":"b","x":2,"y":0.05},{"p":"Sm154Di_NFE2p45","s":"b","x":3.4,"y":0},
{"p":"Sm154Di_NFE2p45","s":"c","x":0,"y":15},{"p":"Sm154Di_NFE2p45","s":"c","x":0.1,"y":1},{"p":"Sm154Di_NFE2p45","s":"c","x":1,"y":0.3},{"p":"Sm154Di_NFE2p45","s":"c","x":2,"y":0.05},{"p":"Sm154Di_NFE2p45","s":"c","x":3.4,"y":0},
{"p":"Sm154Di_NFE2p45","s":"d","x":0,"y":2.5},{"p":"Sm154Di_NFE2p45","s":"d","x":0.3,"y":1.2},{"p":"Sm154Di_NFE2p45","s":"d","x":1,"y":0.5},{"p":"Sm154Di_NFE2p45","s":"d","x":2,"y":0.05},{"p":"Sm154Di_NFE2p45","s":"d","x":3.4,"y":0},
{"p":"Sm154Di_NFE2p45","s":"e","x":0,"y":4},{"p":"Sm154Di_NFE2p45","s":"e","x":0.3,"y":1.3},{"p":"Sm154Di_NFE2p45","s":"e","x":1,"y":0.5},{"p":"Sm154Di_NFE2p45","s":"e","x":2,"y":0.05},{"p":"Sm154Di_NFE2p45","s":"e","x":3.4,"y":0},

{"p":"Tb159Di_IKAROS","s":"a","x":0,"y":0.2},{"p":"Tb159Di_IKAROS","s":"a","x":2.5,"y":0.5},{"p":"Tb159Di_IKAROS","s":"a","x":5,"y":0.02},{"p":"Tb159Di_IKAROS","s":"a","x":5.9,"y":0},
{"p":"Tb159Di_IKAROS","s":"b","x":0,"y":0.2},{"p":"Tb159Di_IKAROS","s":"b","x":2.5,"y":0.5},{"p":"Tb159Di_IKAROS","s":"b","x":5,"y":0.02},{"p":"Tb159Di_IKAROS","s":"b","x":5.9,"y":0},
{"p":"Tb159Di_IKAROS","s":"c","x":0,"y":29},{"p":"Tb159Di_IKAROS","s":"c","x":0.1,"y":0.3},{"p":"Tb159Di_IKAROS","s":"c","x":5,"y":0.02},{"p":"Tb159Di_IKAROS","s":"c","x":5.9,"y":0},
{"p":"Tb159Di_IKAROS","s":"d","x":0,"y":0.2},{"p":"Tb159Di_IKAROS","s":"d","x":2.5,"y":0.5},{"p":"Tb159Di_IKAROS","s":"d","x":5,"y":0.02},{"p":"Tb159Di_IKAROS","s":"d","x":5.9,"y":0},
{"p":"Tb159Di_IKAROS","s":"e","x":0,"y":0.2},{"p":"Tb159Di_IKAROS","s":"e","x":2.5,"y":0.5},{"p":"Tb159Di_IKAROS","s":"e","x":5,"y":0.02},{"p":"Tb159Di_IKAROS","s":"e","x":5.9,"y":0},

{"p":"Tm169Di_FLI1.abcam","s":"a","x":0,"y":0.2},{"p":"Tm169Di_FLI1.abcam","s":"a","x":1,"y":0.1},{"p":"Tm169Di_FLI1.abcam","s":"a","x":2,"y":0.3},{"p":"Tm169Di_FLI1.abcam","s":"a","x":3.2,"y":0.6},{"p":"Tm169Di_FLI1.abcam","s":"a","x":4.2,"y":0.05},{"p":"Tm169Di_FLI1.abcam","s":"a","x":5.5,"y":0},
{"p":"Tm169Di_FLI1.abcam","s":"b","x":0,"y":0.2},{"p":"Tm169Di_FLI1.abcam","s":"b","x":1,"y":0.1},{"p":"Tm169Di_FLI1.abcam","s":"b","x":2,"y":0.3},{"p":"Tm169Di_FLI1.abcam","s":"b","x":3.2,"y":0.6},{"p":"Tm169Di_FLI1.abcam","s":"b","x":4.2,"y":0.05},{"p":"Tm169Di_FLI1.abcam","s":"b","x":5.5,"y":0},
{"p":"Tm169Di_FLI1.abcam","s":"c","x":0,"y":10},{"p":"Tm169Di_FLI1.abcam","s":"c","x":0.1,"y":0.4},{"p":"Tm169Di_FLI1.abcam","s":"c","x":2,"y":0.1},{"p":"Tm169Di_FLI1.abcam","s":"c","x":3.2,"y":0.15},{"p":"Tm169Di_FLI1.abcam","s":"c","x":5.5,"y":0},
{"p":"Tm169Di_FLI1.abcam","s":"d","x":0,"y":0.2},{"p":"Tm169Di_FLI1.abcam","s":"d","x":1,"y":0.1},{"p":"Tm169Di_FLI1.abcam","s":"d","x":2,"y":0.3},{"p":"Tm169Di_FLI1.abcam","s":"d","x":3.2,"y":0.65},{"p":"Tm169Di_FLI1.abcam","s":"d","x":4.2,"y":0.05},{"p":"Tm169Di_FLI1.abcam","s":"d","x":5.5,"y":0},
{"p":"Tm169Di_FLI1.abcam","s":"e","x":0,"y":0.2},{"p":"Tm169Di_FLI1.abcam","s":"e","x":1,"y":0.1},{"p":"Tm169Di_FLI1.abcam","s":"e","x":2,"y":0.3},{"p":"Tm169Di_FLI1.abcam","s":"e","x":3.2,"y":0.6},{"p":"Tm169Di_FLI1.abcam","s":"e","x":4.2,"y":0.05},{"p":"Tm169Di_FLI1.abcam","s":"e","x":5.5,"y":0},

{"p":"Y89Di_CD41..","s":"a","x":0,"y":10},{"p":"Y89Di_CD41..","s":"a","x":0.08,"y":0.5},{"p":"Y89Di_CD41..","s":"a","x":5.8,"y":0},
{"p":"Y89Di_CD41..","s":"b","x":0,"y":10},{"p":"Y89Di_CD41..","s":"b","x":0.08,"y":0.5},{"p":"Y89Di_CD41..","s":"b","x":5.8,"y":0},
{"p":"Y89Di_CD41..","s":"c","x":0,"y":10},{"p":"Y89Di_CD41..","s":"c","x":0.08,"y":0.5},{"p":"Y89Di_CD41..","s":"c","x":5.8,"y":0},
{"p":"Y89Di_CD41..","s":"d","x":0,"y":10},{"p":"Y89Di_CD41..","s":"d","x":0.08,"y":0.5},{"p":"Y89Di_CD41..","s":"d","x":5.8,"y":0},
{"p":"Y89Di_CD41..","s":"e","x":0,"y":50},{"p":"Y89Di_CD41..","s":"e","x":0.05,"y":1},{"p":"Y89Di_CD41..","s":"e","x":5.8,"y":0},

{"p":"Yb171Di_Tbx15","s":"a","x":0,"y":0.05},{"p":"Yb171Di_Tbx15","s":"a","x":1.3,"y":0.5},{"p":"Yb171Di_Tbx15","s":"a","x":2.3,"y":0.6},{"p":"Yb171Di_Tbx15","s":"a","x":4,"y":0.02},{"p":"Yb171Di_Tbx15","s":"a","x":8.3,"y":0},
{"p":"Yb171Di_Tbx15","s":"b","x":0,"y":0.05},{"p":"Yb171Di_Tbx15","s":"b","x":1.3,"y":0.5},{"p":"Yb171Di_Tbx15","s":"b","x":2.3,"y":0.6},{"p":"Yb171Di_Tbx15","s":"b","x":4,"y":0.02},{"p":"Yb171Di_Tbx15","s":"b","x":8.3,"y":0},
{"p":"Yb171Di_Tbx15","s":"c","x":0,"y":10},{"p":"Yb171Di_Tbx15","s":"c","x":0.2,"y":1.1},{"p":"Yb171Di_Tbx15","s":"c","x":2.3,"y":0.7},{"p":"Yb171Di_Tbx15","s":"c","x":4,"y":0.02},{"p":"Yb171Di_Tbx15","s":"c","x":8.3,"y":0},
{"p":"Yb171Di_Tbx15","s":"d","x":0,"y":0.05},{"p":"Yb171Di_Tbx15","s":"d","x":1.3,"y":0.5},{"p":"Yb171Di_Tbx15","s":"d","x":2.3,"y":0.65},{"p":"Yb171Di_Tbx15","s":"d","x":4,"y":0.02},{"p":"Yb171Di_Tbx15","s":"d","x":8.3,"y":0},
{"p":"Yb171Di_Tbx15","s":"e","x":0,"y":0.05},{"p":"Yb171Di_Tbx15","s":"e","x":1.3,"y":0.5},{"p":"Yb171Di_Tbx15","s":"e","x":2.3,"y":0.6},{"p":"Yb171Di_Tbx15","s":"e","x":4,"y":0.02},{"p":"Yb171Di_Tbx15","s":"e","x":8.4,"y":0},

{"p":"Yb172Di_CD38","s":"a","x":0,"y":0.06},{"p":"Yb172Di_CD38","s":"a","x":1,"y":0.07},{"p":"Yb172Di_CD38","s":"a","x":2.5,"y":0.15},{"p":"Yb172Di_CD38","s":"a","x":3.7,"y":0.22},{"p":"Yb172Di_CD38","s":"a","x":4.3,"y":0.2},{"p":"Yb172Di_CD38","s":"a","x":5.1,"y":0.4},{"p":"Yb172Di_CD38","s":"a","x":6,"y":0.04},{"p":"Yb172Di_CD38","s":"a","x":7.2,"y":0},
{"p":"Yb172Di_CD38","s":"b","x":0,"y":0.07},{"p":"Yb172Di_CD38","s":"b","x":1,"y":0.07},{"p":"Yb172Di_CD38","s":"b","x":2.5,"y":0.16},{"p":"Yb172Di_CD38","s":"b","x":3.7,"y":0.28},{"p":"Yb172Di_CD38","s":"b","x":4.3,"y":0.21},{"p":"Yb172Di_CD38","s":"b","x":5.0,"y":0.34},{"p":"Yb172Di_CD38","s":"b","x":6,"y":0.04},{"p":"Yb172Di_CD38","s":"b","x":7.2,"y":0},
{"p":"Yb172Di_CD38","s":"c","x":0,"y":0.05},{"p":"Yb172Di_CD38","s":"c","x":1,"y":0.06},{"p":"Yb172Di_CD38","s":"c","x":2.5,"y":0.14},{"p":"Yb172Di_CD38","s":"c","x":3.7,"y":0.21},{"p":"Yb172Di_CD38","s":"c","x":4.3,"y":0.19},{"p":"Yb172Di_CD38","s":"c","x":5.1,"y":0.42},{"p":"Yb172Di_CD38","s":"c","x":6,"y":0.04},{"p":"Yb172Di_CD38","s":"c","x":7.2,"y":0},
{"p":"Yb172Di_CD38","s":"d","x":0,"y":0.03},{"p":"Yb172Di_CD38","s":"d","x":1,"y":0.06},{"p":"Yb172Di_CD38","s":"d","x":2.5,"y":0.14},{"p":"Yb172Di_CD38","s":"d","x":3.7,"y":0.25},{"p":"Yb172Di_CD38","s":"d","x":4.3,"y":0.22},{"p":"Yb172Di_CD38","s":"d","x":5.0,"y":0.38},{"p":"Yb172Di_CD38","s":"d","x":5.9,"y":0.04},{"p":"Yb172Di_CD38","s":"d","x":7.2,"y":0},
{"p":"Yb172Di_CD38","s":"e","x":0,"y":0.05},{"p":"Yb172Di_CD38","s":"e","x":1,"y":0.06},{"p":"Yb172Di_CD38","s":"e","x":2.5,"y":0.15},{"p":"Yb172Di_CD38","s":"e","x":3.7,"y":0.19},{"p":"Yb172Di_CD38","s":"e","x":4.4,"y":0.19},{"p":"Yb172Di_CD38","s":"e","x":5.2,"y":0.44},{"p":"Yb172Di_CD38","s":"e","x":6.1,"y":0.04},{"p":"Yb172Di_CD38","s":"e","x":7.3,"y":0},

{"p":"Yb173Di_CD184","s":"a","x":0,"y":0.28},{"p":"Yb173Di_CD184","s":"a","x":0.6,"y":0.17},{"p":"Yb173Di_CD184","s":"a","x":1.4,"y":0.28},{"p":"Yb173Di_CD184","s":"a","x":2.2,"y":0.42},{"p":"Yb173Di_CD184","s":"a","x":3,"y":0.2},{"p":"Yb173Di_CD184","s":"a","x":3.8,"y":0.03},{"p":"Yb173Di_CD184","s":"a","x":4.4,"y":0},
{"p":"Yb173Di_CD184","s":"b","x":0,"y":0.25},{"p":"Yb173Di_CD184","s":"b","x":0.6,"y":0.18},{"p":"Yb173Di_CD184","s":"b","x":1.4,"y":0.3},{"p":"Yb173Di_CD184","s":"b","x":2,"y":0.38},{"p":"Yb173Di_CD184","s":"b","x":3,"y":0.2},{"p":"Yb173Di_CD184","s":"b","x":3.8,"y":0.03},{"p":"Yb173Di_CD184","s":"b","x":4.4,"y":0},
{"p":"Yb173Di_CD184","s":"c","x":0,"y":0.22},{"p":"Yb173Di_CD184","s":"c","x":0.7,"y":0.15},{"p":"Yb173Di_CD184","s":"c","x":1.4,"y":0.25},{"p":"Yb173Di_CD184","s":"c","x":2.3,"y":0.42},{"p":"Yb173Di_CD184","s":"c","x":3.1,"y":0.2},{"p":"Yb173Di_CD184","s":"c","x":3.9,"y":0.03},{"p":"Yb173Di_CD184","s":"c","x":4.5,"y":0},
{"p":"Yb173Di_CD184","s":"d","x":0,"y":0.28},{"p":"Yb173Di_CD184","s":"d","x":0.15,"y":0.32},{"p":"Yb173Di_CD184","s":"d","x":0.6,"y":0.25},{"p":"Yb173Di_CD184","s":"d","x":1.2,"y":0.32},{"p":"Yb173Di_CD184","s":"d","x":1.8,"y":0.44},{"p":"Yb173Di_CD184","s":"d","x":2.5,"y":0.3},{"p":"Yb173Di_CD184","s":"d","x":3.2,"y":0.05},{"p":"Yb173Di_CD184","s":"d","x":4,"y":0},
{"p":"Yb173Di_CD184","s":"e","x":0,"y":0.2},{"p":"Yb173Di_CD184","s":"e","x":0.6,"y":0.12},{"p":"Yb173Di_CD184","s":"e","x":1.3,"y":0.2},{"p":"Yb173Di_CD184","s":"e","x":2.3,"y":0.44},{"p":"Yb173Di_CD184","s":"e","x":2.9,"y":0.3},{"p":"Yb173Di_CD184","s":"e","x":3.5,"y":0.12},{"p":"Yb173Di_CD184","s":"e","x":4.6,"y":0},

{"p":"Yb174Di_HA.11","s":"a","x":0,"y":2.5},{"p":"Yb174Di_HA.11","s":"a","x":0.2,"y":1.1},{"p":"Yb174Di_HA.11","s":"a","x":0.5,"y":0.9},{"p":"Yb174Di_HA.11","s":"a","x":1,"y":0.45},{"p":"Yb174Di_HA.11","s":"a","x":1.5,"y":0.1},{"p":"Yb174Di_HA.11","s":"a","x":2.7,"y":0},
{"p":"Yb174Di_HA.11","s":"b","x":0,"y":1.9},{"p":"Yb174Di_HA.11","s":"b","x":0.2,"y":1.1},{"p":"Yb174Di_HA.11","s":"b","x":0.5,"y":0.9},{"p":"Yb174Di_HA.11","s":"b","x":1,"y":0.45},{"p":"Yb174Di_HA.11","s":"b","x":1.5,"y":0.1},{"p":"Yb174Di_HA.11","s":"b","x":2.7,"y":0},
{"p":"Yb174Di_HA.11","s":"c","x":0,"y":2.85},{"p":"Yb174Di_HA.11","s":"c","x":0.2,"y":0.9},{"p":"Yb174Di_HA.11","s":"c","x":0.5,"y":0.75},{"p":"Yb174Di_HA.11","s":"c","x":1,"y":0.4},{"p":"Yb174Di_HA.11","s":"c","x":1.5,"y":0.1},{"p":"Yb174Di_HA.11","s":"c","x":2.7,"y":0},
{"p":"Yb174Di_HA.11","s":"d","x":0,"y":2.8},{"p":"Yb174Di_HA.11","s":"d","x":0.2,"y":1.15},{"p":"Yb174Di_HA.11","s":"d","x":0.5,"y":0.95},{"p":"Yb174Di_HA.11","s":"d","x":1,"y":0.45},{"p":"Yb174Di_HA.11","s":"d","x":1.5,"y":0.1},{"p":"Yb174Di_HA.11","s":"d","x":2.7,"y":0},
{"p":"Yb174Di_HA.11","s":"e","x":0,"y":2.4},{"p":"Yb174Di_HA.11","s":"e","x":0.2,"y":1.0},{"p":"Yb174Di_HA.11","s":"e","x":0.5,"y":0.85},{"p":"Yb174Di_HA.11","s":"e","x":1,"y":0.45},{"p":"Yb174Di_HA.11","s":"e","x":1.5,"y":0.1},{"p":"Yb174Di_HA.11","s":"e","x":2.8,"y":0},

{"p":"Yb176Di_CD164","s":"a","x":0,"y":5},{"p":"Yb176Di_CD164","s":"a","x":0.1,"y":1},{"p":"Yb176Di_CD164","s":"a","x":2.5,"y":0},
{"p":"Yb176Di_CD164","s":"b","x":0,"y":5},{"p":"Yb176Di_CD164","s":"b","x":0.1,"y":1},{"p":"Yb176Di_CD164","s":"b","x":2.5,"y":0},
{"p":"Yb176Di_CD164","s":"c","x":0,"y":200},{"p":"Yb176Di_CD164","s":"c","x":0.03,"y":3},{"p":"Yb176Di_CD164","s":"c","x":2.5,"y":0},
{"p":"Yb176Di_CD164","s":"d","x":0,"y":5},{"p":"Yb176Di_CD164","s":"d","x":0.1,"y":1},{"p":"Yb176Di_CD164","s":"d","x":2.5,"y":0},
{"p":"Yb176Di_CD164","s":"e","x":0,"y":60},{"p":"Yb176Di_CD164","s":"e","x":0.05,"y":2},{"p":"Yb176Di_CD164","s":"e","x":2.5,"y":0}
]},
"facet":{"field":"p","type":"nominal","sort":"ascending","header":{"title":"expression","titleOrient":"bottom","titleFontSize":24,"titleFont":"Liberation Sans","titleFontWeight":"normal","titlePadding":48,"labelOrient":"top","labelFontSize":16,"labelFont":"Liberation Sans","labelColor":"#1a1a1a","labelPadding":10,"labelLimit":170}},
"columns":7,
"spacing":{"row":90,"column":58},
"resolve":{"scale":{"x":"independent","y":"independent"}},
"spec":{
"width":170,"height":165,
"mark":{"type":"line","interpolate":"monotone","strokeWidth":2.2},
"encoding":{
"x":{"field":"x","type":"quantitative","title":null,"axis":{"labelAngle":90,"labelAlign":"left","labelBaseline":"middle","tickCount":3,"labelFlush":false}},
"y":{"field":"y","type":"quantitative","title":null,"axis":{"tickCount":4,"labelExpr":"replace(datum.label, regexp(',', 'g'), '')"}},
"color":{"field":"s","type":"nominal","scale":{"domain":["a","b","c","d","e"],"range":["#F8766D","#A3A500","#00BF7D","#00B0F6","#E76BF3"]},
"legend":{"title":null,"orient":"none","legendX":1630,"legendY":640,"labelLimit":0,"labelExpr":"{'a':'2%PFA - NAS PERM','b':'4%PFA - NAS PERM','c':'4%PFA - NO PERM','d':'8%PFA - NAS PERM','e':'PFA+GLUT-NAS PERM'}[datum.label]","symbolType":"square","symbolSize":1400,"symbolStrokeWidth":2,"symbolFillColor":"white","labelFontSize":20,"labelFont":"Liberation Sans","rowPadding":10,"labelOffset":16}}
}
},
"config":{
"view":{"stroke":"#333333","strokeWidth":1.5},
"axis":{"gridColor":"#ebebeb","gridWidth":1.5,"domain":false,"tickColor":"#333","tickWidth":2,"labelFontSize":17,"labelFont":"Liberation Sans","labelColor":"#4d4d4d","labelFlush":false}
}
}
